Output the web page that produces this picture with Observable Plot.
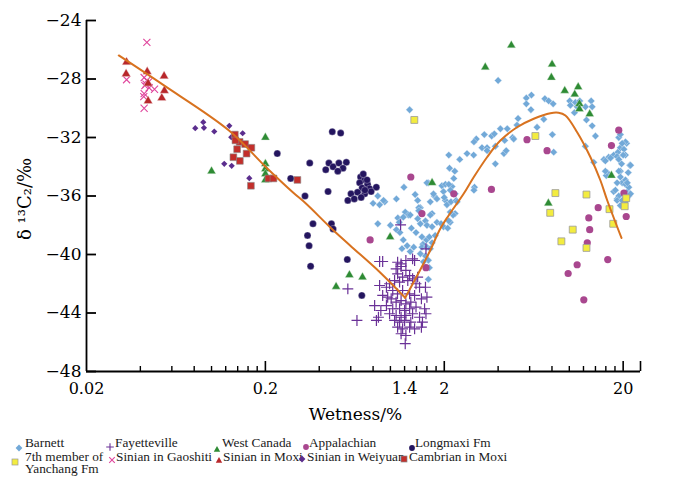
<!DOCTYPE html>
<html><head><meta charset="utf-8">
<script src="https://cdn.jsdelivr.net/npm/d3@7"></script>
<script src="https://cdn.jsdelivr.net/npm/@observablehq/plot@0.6"></script>
<style>
body{margin:0;background:#fff;}
#wrap{position:relative;width:685px;height:485px;overflow:hidden;background:#fff;}
.lg{position:absolute;font-family:"Liberation Serif","Times New Roman",serif;font-size:13.3px;line-height:12px;color:#1a1a1a;white-space:pre;}
.mk{position:absolute;width:10px;height:10px;}
</style></head><body><div id="wrap"></div>
<script>
// ---- data (wetness %, δ13C2 ‰) ----
const barnett = [
[1.28,-30.1],[4.0,-28.1],[5.75,-29.3],[6.14,-29.1],[5.75,-29.7],[6.10,-30.1],[7.3,-29.35],[7.67,-29.5],[8.12,-29.7],[10.05,-29.5],
[10.14,-29.8],[10.82,-29.6],[11.06,-29.9],[10.68,-30.3],[11.44,-29.5],[12.31,-29.9],[13.25,-29.5],[13.42,-29.9],[12.47,-30.8],[13.42,-31.2],
[14.0,-31.9],[5.17,-30.7],[5.10,-31.15],[7.2,-30.75],[6.6,-31.3],[4.82,-32.0],[8.04,-31.8],[8.18,-33.0],[4.12,-31.4],[4.5,-31.4],
[3.35,-31.8],[3.68,-31.9],[3.81,-31.75],[3.02,-32.1],[2.93,-32.3],[3.25,-32.7],[3.47,-32.7],[3.47,-32.9],[3.86,-32.6],[4.31,-33.1],
[4.44,-32.9],[4.35,-32.2],[4.89,-32.1],[3.86,-33.8],[2.68,-33.1],[2.92,-33.2],[2.44,-33.5],[2.12,-33.2],[2.14,-34.1],[2.29,-34.3],
[2.26,-34.8],[2.21,-35.35],[2.95,-35.4],[2.93,-35.6],[1.94,-35.3],[2.03,-35.2],[2.12,-35.2],[1.98,-35.7],[2.16,-35.6],[1.76,-36.0],
[2.03,-36.3],[2.07,-36.6],[2.18,-36.4],[2.33,-36.3],[1.63,-35.1],[1.71,-37.2],[2.30,-37.2],[1.47,-36.8],[1.60,-35.1],[1.19,-35.4],
[0.85,-36.0],[1.08,-36.2],[1.42,-36.3],[1.375,-35.9],[1.44,-36.8],[0.93,-36.4],[0.80,-36.5],[0.87,-36.6],[1.21,-37.1],[1.26,-37.3],
[1.10,-37.5],[1.29,-37.3],[1.18,-37.45],[1.12,-37.8],[1.42,-37.55],[1.47,-37.9],[1.57,-37.7],[1.67,-37.3],[1.60,-38.0],[1.71,-38.1],
[1.82,-37.8],[1.92,-37.9],[1.98,-38.1],[2.09,-38.2],[2.16,-37.8],[2.24,-37.3],[0.85,-37.9],[1.0,-38.0],[1.08,-38.3],[1.13,-38.5],
[1.31,-38.2],[1.39,-38.5],[1.50,-38.8],[1.59,-39.0],[1.52,-39.3],[1.65,-38.8],[1.71,-39.2],[1.78,-38.7],[1.18,-39.0],[1.24,-39.4],
[1.16,-39.6],[1.29,-39.8],[1.47,-39.95],[1.57,-40.1],[1.63,-40.4],[1.53,-40.5],[1.65,-40.9],[1.63,-41.7],[0.915,-36.3],[1.74,-35.85],
[1.82,-36.2],[1.67,-36.4],[1.44,-37.0],[2.0,-36.1],[2.30,-35.85],[2.36,-36.4],[1.35,-39.5],[1.50,-39.5],[1.60,-39.5],[1.67,-39.6],
[2.12,-37.7],[2.16,-37.1],
[12.3,-32.6],[13.7,-33.7],[15.6,-33.5],[16.6,-33.35],[17.7,-33.2],[18.7,-33.0],[19.3,-32.7],[20.2,-32.8],[20.9,-32.4],[18.9,-32.0],
[19.3,-31.8],[20.6,-32.3],[19.75,-32.4],[20.6,-33.2],[21.8,-33.9],[21.35,-34.4],[16.3,-34.4],[16.1,-34.6],[19.3,-34.3],[19.3,-34.7],
[19.75,-35.1],[20.6,-34.9],[21.2,-35.7],[21.8,-35.85],[18.5,-36.2],[17.7,-35.7],[17.0,-33.4],[18.5,-33.3],[20.0,-33.2],[18.9,-33.5],
[19.6,-33.8],[22.0,-33.9],[15.9,-33.6],[18.9,-34.3],[20.6,-35.2],[21.5,-35.4],[18.5,-35.1],[18.1,-35.6],[18.9,-36.0],[20.2,-35.85],
[21.5,-36.0],[18.5,-36.3],[19.3,-36.65],[20.6,-36.4],[21.1,-35.1],[15.9,-34.3],[22.0,-35.85],[19.75,-36.3]
];
const fayetteville = [
[1.076,-40.98],[1.147,-40.82],[1.22,-41.09],[1.097,-41.32],[1.17,-41.55],[1.28,-41.44],[1.055,-41.78],[1.125,-41.89],[1.25,-41.78],[1.33,-41.66],
[1.42,-41.55],[1.455,-42.24],[1.39,-42.0],[1.03,-42.46],[1.095,-42.69],[1.17,-42.46],[1.28,-42.69],[1.365,-42.8],[1.49,-43.03],[1.01,-43.03],
[1.076,-43.26],[1.147,-43.15],[1.22,-43.37],[1.30,-43.26],[0.95,-43.49],[1.03,-43.71],[1.125,-43.71],[1.20,-43.83],[1.28,-43.71],[1.39,-43.6],
[0.989,-44.05],[1.076,-44.17],[1.147,-44.29],[1.22,-44.17],[1.33,-44.05],[1.455,-44.29],[1.055,-44.51],[1.125,-44.63],[1.20,-44.51],[1.30,-44.63],
[1.51,-44.63],[1.097,-44.97],[1.17,-45.08],[1.28,-44.97],[1.365,-45.08],[1.49,-44.97],[1.147,-45.42],[1.22,-45.54],[1.21,-46.1],[0.905,-42.8],
[0.965,-42.92],[0.884,-43.83],[0.816,-43.49],[0.857,-44.29],[0.835,-44.51],[0.65,-44.51],[0.578,-42.35],[1.097,-40.53],[1.147,-40.64],[1.22,-40.41],
[1.33,-40.3],[1.365,-40.41],[1.58,-39.61],[1.57,-42.24],[1.58,-44.05],[1.552,-43.71],[1.60,-42.92],[0.989,-42.0],[0.95,-42.24],[0.87,-42.12],
[1.14,-37.97],[0.87,-40.48],[0.905,-40.48]
];
const westCanada = [
[0.100,-34.3],[0.2,-32.0],[0.2,-33.8],[0.2,-34.15],[0.2,-34.5],[0.2,-34.9],[0.497,-42.2],[0.59,-41.4],[0.698,-41.55],[0.996,-38.8],
[1.71,-35.1],[3.39,-27.2],[4.74,-25.7],[8.01,-27.0],[7.94,-27.9],[9.43,-28.8],[10.72,-29.05],[11.21,-28.55],[11.39,-29.7],[11.39,-30.05],
[13.0,-30.4],[17.2,-34.6],[7.64,-36.5]
];
const appalachian = [
[1.30,-34.7],[2.26,-35.85],[3.67,-35.55],[5.80,-32.15],[7.51,-32.9],[18.9,-31.5],[17.2,-32.55],[20.2,-35.8],[0.77,-39.0],[1.50,-37.2],
[1.58,-40.9],[14.5,-36.8],[12.85,-37.5],[13.0,-38.3],[12.6,-39.2],[11.06,-40.7],[9.85,-41.3],[16.4,-40.35],[12.05,-43.1],[20.8,-37.4]
];
const longmaxi = [
[0.233,-33.1],[0.277,-34.8],[0.333,-36.0],[0.448,-35.7],[0.578,-36.3],[0.369,-37.9],[0.468,-37.9],[0.478,-38.25],[0.344,-38.7],[0.351,-39.4],
[0.358,-40.8],[0.574,-40.35],[0.692,-42.8],[0.473,-31.6],[0.527,-31.7],[0.354,-33.75],[0.453,-33.75],[0.478,-34.0],[0.435,-34.2],[0.515,-33.75],
[0.567,-33.7],[0.543,-34.1],[0.508,-34.3],[0.681,-34.7],[0.718,-34.9],[0.673,-35.1],[0.745,-35.2],[0.695,-35.45],[0.765,-35.5],[0.602,-35.85],
[0.655,-35.75],[0.718,-35.85],[0.628,-36.2],[0.686,-36.1],[0.834,-35.4],[0.78,-35.7],[0.72,-35.6],[0.74,-34.9],[0.705,-34.5]
];
const yanchang = [
[1.36,-30.8],[6.46,-31.9],[8.36,-35.8],[12.47,-35.9],[20.8,-36.15],[7.82,-37.15],[10.45,-38.3],[9.03,-39.1],[12.47,-39.55],[16.77,-36.9],
[17.6,-37.9],[20.4,-36.7]
];
const gaoshiti = [
[0.0435,-25.5],[0.0335,-28.05],[0.042,-27.9],[0.0435,-28.1],[0.0445,-28.2],[0.043,-28.35],[0.0424,-28.45],[0.0448,-28.6],[0.048,-28.7],[0.042,-29.0],
[0.0418,-29.2],[0.042,-30.0]
];
const sinianMoxi = [
[0.0335,-26.85],[0.0333,-27.65],[0.0437,-27.5],[0.0442,-28.3],[0.0543,-27.8],[0.0545,-28.8],[0.0527,-29.3],[0.0442,-29.5]
];
const weiyuan = [
[0.0811,-31.36],[0.0899,-30.95],[0.0907,-31.34],[0.1036,-31.59],[0.1257,-31.2],[0.1493,-31.71],[0.1289,-31.98],[0.1178,-33.8],[0.1296,-33.94],[0.1626,-34.78]
];
const cambrianMoxi = [
[0.135,-31.8],[0.1436,-32.3],[0.136,-32.2],[0.154,-32.45],[0.139,-32.8],[0.167,-32.7],[0.157,-33.1],[0.1325,-33.35],[0.144,-33.6],[0.166,-35.3],
[0.208,-34.8],[0.222,-34.8],[0.302,-34.9]
];
// fitted trend curve
const fitX = [0.0303,0.0542,0.1252,0.2017,0.2856,0.338,0.460,0.595,0.876,1.209,1.634,1.899,2.115,2.566,2.92,3.468,4.117,5.105,6.325,7.84,8.70,9.512,11.06,13.13,14.93,16.3,19.57];
const fitY = [-26.39,-28.44,-31.52,-34.03,-35.76,-36.53,-38.13,-39.38,-41.23,-42.96,-39.95,-38.24,-37.33,-35.85,-34.72,-33.35,-32.21,-31.3,-30.72,-30.34,-30.31,-30.5,-31.64,-33.35,-34.94,-36.31,-38.87];
const fitVertex = 9;
// axes
const yTicks = [-48,-44,-40,-36,-32,-28,-24];
const xLabelValues = [0.02, 0.2, 1.2, 2, 20];
const xLabelText = ["0.02","0.2","1.4","2","20"];
const xMajorTicks = [0.2, 2, 20, 25];
const xMinorTicks = [0.04,0.06,0.08,0.1,0.12,0.14,0.16,0.18,0.4,0.6,0.8,1.0,1.2,1.4,1.6,1.8,4,6,8,10,12,14,16,18];
const xLabel = "Wetness/%";
const yLabel = "δ ¹³C₂/‰";
const legendNames = ["Barnett","Fayetteville","West Canada","Appalachian","Longmaxi Fm","7th member of\nYanchang Fm","Sinian in Gaoshiti","Sinian in Moxi","Sinian in Weiyuan","Cambrian in Moxi"];

// ---- styles ----
const series = [
  {data:barnett, symbol:"diamond2", fill:"#72a9d8", stroke:"#eaf2fa", sw:0.4, r:3.3, leg:"diamond"},
  {data:fayetteville, symbol:"plus", fill:"none", stroke:"#6a3197", sw:1.2, r:3.6, leg:"plus"},
  {data:westCanada, symbol:"triangle", fill:"#2e8b34", stroke:"#dfeedf", sw:0.4, r:3.2, leg:"triangle"},
  {data:appalachian, symbol:"circle", fill:"#a9478f", stroke:"none", sw:0, r:3.6, leg:"circle"},
  {data:longmaxi, symbol:"circle", fill:"#24155f", stroke:"#ffffff", sw:0.3, r:3.5, leg:"circle"},
  {data:yanchang, symbol:"square", fill:"#f3ec3f", stroke:"#9a9a9a", sw:0.8, r:3.9, leg:"square"},
  {data:gaoshiti, symbol:"times", fill:"none", stroke:"#e0469d", sw:1.1, r:3.3, leg:"times"},
  {data:sinianMoxi, symbol:"triangle", fill:"#b8272b", stroke:"#f0d8d8", sw:0.4, r:3.3, leg:"triangle"},
  {data:weiyuan, symbol:"diamond2", fill:"#5b2e8e", stroke:"none", sw:0, r:2.8, leg:"diamond"},
  {data:cambrianMoxi, symbol:"square", fill:"#c32f2b", stroke:"#888888", sw:0.6, r:3.8, leg:"square"}
];
const curveColor = "#d8721f";
const fit = fitX.map((x, i) => ({x, y: fitY[i], branch: i <= fitVertex ? "a" : "b"}));
fit.splice(fitVertex + 1, 0, {x: fitX[fitVertex], y: fitY[fitVertex], branch: "b"});

const serifAxis = "DejaVu Serif, Liberation Serif, serif";
const chart = Plot.plot({
  width: 685, height: 425,
  marginLeft: 86, marginRight: 45, marginTop: 20, marginBottom: 54,
  x: {type: "log", domain: [0.02, 25]},
  y: {domain: [-48, -24]},
  style: {background: "white", color: "black", fontFamily: serifAxis},
  marks: [
    ...series.map(s => Plot.dot(s.data, {
      x: d => d[0], y: d => d[1], symbol: s.symbol, r: s.r,
      fill: s.fill, stroke: s.stroke, strokeWidth: s.sw
    })),
    Plot.line(fit, {x: "x", y: "y", z: "branch", stroke: curveColor, strokeWidth: 2, curve: "catmull-rom"}),
    Plot.ruleY([-48], {strokeWidth: 1.8}),
    Plot.ruleX([0.02], {y1: -48, y2: -24, strokeWidth: 1.8}),
    Plot.axisY({ticks: yTicks, tickSize: -10, tickPadding: 15, strokeWidth: 1.8, fontSize: 17, fontFamily: serifAxis, label: null}),
    Plot.axisX({ticks: xMajorTicks, tickSize: -10, strokeWidth: 1.6, tickFormat: () => "", label: null}),
    Plot.axisX({ticks: xMinorTicks, tickSize: -5, strokeWidth: 1.4, tickFormat: () => "", label: null}),
    Plot.axisX({ticks: xLabelValues, tickSize: 0, tickPadding: 11, tickFormat: d => xLabelText[xLabelValues.indexOf(d)], fontSize: 16, fontFamily: serifAxis, label: null}),
    Plot.text([xLabel], {text: d => d, frameAnchor: "bottom", lineAnchor: "middle", dy: 43, dx: -8, fontSize: 17, fontFamily: serifAxis}),
    Plot.text([yLabel], {text: d => d, frameAnchor: "left", textAnchor: "middle", rotate: -90, dx: -61, dy: 3, fontSize: 18, fontFamily: serifAxis})
  ]
});
const wrap = document.getElementById("wrap");
wrap.appendChild(chart);

// ---- legend (HTML below the plot) ----
const legendLayout = [ // [marker x, marker y, text left, text top]
  [19,444,25,437],[110,443,115,437],[217,445,222,437],[306,443,309,437],[412,444,415,437],
  [15,458,25,451],[112,456,116,451],[219,456,223,451],[302,455,307,451],[404,455,409,451]
];
function markerSVG(kind, fill, stroke) {
  let inner = "";
  if (kind === "diamond") inner = `<polygon points="5,1.6 8.4,5 5,8.4 1.6,5" fill="${fill}"/>`;
  else if (kind === "plus") inner = `<path d="M1.2,5H8.8M5,1.2V8.8" stroke="${stroke}" stroke-width="1.1" fill="none"/>`;
  else if (kind === "triangle") inner = `<polygon points="5,2 8.2,7.8 1.8,7.8" fill="${fill}"/>`;
  else if (kind === "circle") inner = `<circle cx="5" cy="5" r="2.9" fill="${fill}"/>`;
  else if (kind === "square") inner = `<rect x="2" y="2" width="6" height="6" fill="${fill}" stroke="${stroke}" stroke-width="0.7"/>`;
  else if (kind === "times") inner = `<path d="M2.2,2.2L7.8,7.8M7.8,2.2L2.2,7.8" stroke="${stroke}" stroke-width="1.1" fill="none"/>`;
  return `<svg width="10" height="10" viewBox="0 0 10 10">${inner}</svg>`;
}
series.forEach((s, i) => {
  const [mx, my, tx, ty] = legendLayout[i];
  const m = document.createElement("div");
  m.className = "mk";
  m.style.left = (mx - 5) + "px"; m.style.top = (my - 5) + "px";
  m.innerHTML = markerSVG(s.leg, s.fill === "none" ? s.stroke : s.fill, s.stroke);
  wrap.appendChild(m);
  const t = document.createElement("div");
  t.className = "lg";
  t.style.left = tx + "px"; t.style.top = ty + "px";
  t.textContent = legendNames[i];
  wrap.appendChild(t);
});
</script></body></html>
